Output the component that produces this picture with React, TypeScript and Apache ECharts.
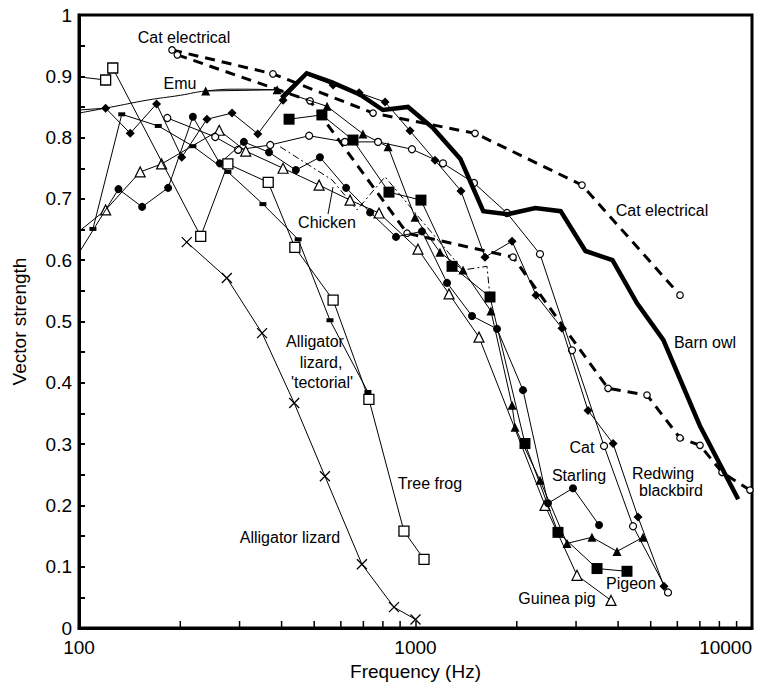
import React, { useEffect, useRef } from 'react';
import * as echarts from 'echarts';

const FONT = '"Liberation Sans", Arial, Helvetica, sans-serif';

const xTickLabels = ['100', '1000', '10000'];
const yTickLabels = ['0', '0.1', '0.2', '0.3', '0.4', '0.5', '0.6', '0.7', '0.8', '0.9', '1'];
const xMinorTicks = [200, 300, 400, 500, 600, 700, 800, 900, 2000, 3000, 4000, 5000, 6000, 7000, 8000, 9000];

type P = [number, number];

const barnOwl: P[] = [[400, .865], [475, .905], [565, .89], [685, .87], [800, .845], [950, .85], [1130, .815], [1360, .765], [1590, .68], [1880, .675], [2270, .685], [2700, .68], [3200, .615], [3850, .60], [4550, .53], [5450, .47], [7000, .33], [9100, .21]];

const catElectricalA: P[] = [[189, .943], [377, .904], [748, .84], [1503, .807], [3125, .7225], [6110, .543]];

const catElectricalB: P[] = [[196, .935], [486, .86], [944, .644], [1949, .605], [3734, .391], [4875, .38], [6110, .31], [7006, .298], [8145, .254], [9860, .225]];

const cat: P[] = [[183, .832], [254, .801], [297, .78], [370, .788], [483, .803], [617, .793], [774, .793], [976, .781], [1207, .758], [1492, .726], [1870, .677], [2344, .61], [2918, .453], [3633, .297], [4431, .166], [5628, .058]];

const redwing: P[] = [[100, .845], [120, .848], [142, .807], [170, .855], [202, .768], [240, .83], [285, .84], [340, .806], [404, .861], [476, .902], [569, .886], [680, .873], [812, .858], [963, .811], [1143, .763], [1365, .713], [1609, .605], [1936, .631], [2281, .543], [2725, .489], [3255, .355], [3864, .301], [4584, .181], [5476, .068]];
const redwingHidden = [476];

const starling: P[] = [[100, .612], [131, .716], [154, .687], [184, .718], [218, .834], [262, .758], [309, .793], [367, .776], [441, .747], [520, .768], [622, .718], [733, .678], [875, .638], [1045, .647], [1241, .563], [1472, .509], [1747, .488], [2087, .388], [2476, .2035], [2938, .228], [3511, .168]];

const pigeon: P[] = [[421, .83], [527, .837], [652, .796], [834, .711], [1038, .698], [1284, .59], [1665, .54], [2115, .301], [2651, .156], [3463, .097], [4251, .0925]];

const guineaPig: P[] = [[100, .647], [120, .682], [152, .744], [176, .757], [261, .812], [313, .778], [404, .75], [517, .7225], [639, .698], [779, .677], [1017, .618], [1258, .545], [1544, .4745], [2426, .2], [3019, .086], [3811, .045]];

const chicken: P[] = [[396, .785], [565, .731], [670, .682], [812, .736], [1384, .584], [1631, .59], [1665, .54]];

const emuCurve: P[] = [[100, .84], [128, .851], [159, .861], [200, .869], [238, .876], [301, .879], [388, .878]];
const emu: P[] = [[238, .876], [388, .878], [546, .851], [698, .806], [829, .785], [997, .67], [1182, .613], [1384, .584], [1676, .517], [1936, .3635], [1976, .3276], [2344, .241], [2820, .138], [3345, .148], [3971, .125], [4744, .148]];

const alligatorLizard: P[] = [[209, .6295], [275, .571], [350, .481], [436, .367], [538, .2476], [693, .104], [863, .034], [1000, .014]];

const tectorial: P[] = [[110, .651], [134, .838], [172, .819], [218, .786], [277, .744], [352, .6915], [448, .634], [557, .502], [722, .385]];

const treeFrog: P[] = [[100, .899], [120, .894], [126, .9135], [230, .639], [277, .757], [365, .727], [438, .621], [569, .535], [727, .373], [924, .158], [1060, .112]];

const labels: { text: string; x: number; y: number }[] = [
  { text: 'Cat electrical', x: 184, y: 37 },
  { text: 'Emu', x: 180, y: 83 },
  { text: 'Chicken', x: 327, y: 222 },
  { text: 'Cat electrical', x: 662, y: 210 },
  { text: 'Barn owl', x: 705, y: 342 },
  { text: 'Alligator', x: 315, y: 341 },
  { text: 'lizard,', x: 321, y: 362 },
  { text: "'tectorial'", x: 322, y: 382 },
  { text: 'Tree frog', x: 430, y: 483 },
  { text: 'Alligator lizard', x: 290, y: 537 },
  { text: 'Starling', x: 579, y: 475 },
  { text: 'Cat', x: 582, y: 447 },
  { text: 'Redwing', x: 663, y: 473 },
  { text: 'blackbird', x: 671, y: 490 },
  { text: 'Pigeon', x: 631, y: 583 },
  { text: 'Guinea pig', x: 557, y: 598 },
];

interface Sty {
  symbol?: string;
  size?: number | number[];
  fill?: string;
  border?: number;
  width?: number;
  type?: any;
  smooth?: boolean;
  z?: number;
  hidden?: number[];
}

function mk(name: string, data: P[], s: Sty) {
  const hidden = s.hidden || [];
  return {
    type: 'line',
    name,
    silent: true,
    smooth: s.smooth || false,
    data: data.map(([f, v]) =>
      f <= 100 || hidden.includes(f) ? { value: [f, v], symbol: 'none' } : { value: [f, v] }
    ),
    symbol: s.symbol || 'none',
    symbolSize: s.size || 8,
    showSymbol: !!s.symbol,
    lineStyle: { color: '#000', width: s.width || 1, type: s.type || 'solid', cap: 'butt', join: 'miter' },
    itemStyle: { color: s.fill || '#000', borderColor: '#000', borderWidth: s.border || 0 },
    z: s.z || 2,
  };
}

export default function App() {
  const ref = useRef<HTMLDivElement>(null);
  useEffect(() => {
    const chart = echarts.init(ref.current!, null, { renderer: 'svg' });
    const option: any = {
      animation: false,
      backgroundColor: '#fff',
      grid: {
        left: 79, right: 13, top: 15, bottom: 61,
        show: true, borderColor: '#000', borderWidth: 3,
        containLabel: false, outerBoundsMode: 'none',
      },
      xAxis: {
        type: 'log', logBase: 10, min: 100, max: 10000,
        axisLine: { show: true, lineStyle: { color: '#000', width: 3 } },
        axisTick: { show: true, inside: true, length: 7, lineStyle: { color: '#000', width: 1.5 } },
        axisLabel: {
          color: '#000', fontSize: 19, fontFamily: FONT, margin: 10,
          alignMaxLabel: 'right',
          formatter: (v: number) => xTickLabels[Math.round(Math.log10(v)) - 2] ?? '',
        },
        splitLine: { show: false },
        minorTick: { show: false },
        name: 'Frequency (Hz)', nameLocation: 'middle', nameGap: 31,
        nameTextStyle: { color: '#000', fontSize: 19, fontFamily: FONT },
      },
      yAxis: {
        type: 'value', min: 0, max: 1, interval: 0.05,
        axisLine: { show: true, lineStyle: { color: '#000', width: 3 } },
        axisTick: { show: true, inside: true, length: 6, lineStyle: { color: '#000', width: 2 } },
        axisLabel: {
          color: '#000', fontSize: 19, fontFamily: FONT, margin: 7,
          formatter: (v: number) => {
            const i = Math.round(v * 20);
            return i % 2 === 0 ? yTickLabels[i / 2] : '';
          },
        },
        splitLine: { show: false },
        name: 'Vector strength', nameLocation: 'middle', nameGap: 50,
        nameTextStyle: { color: '#000', fontSize: 19, fontFamily: FONT },
      },
      series: [
        {
          type: 'custom', name: 'minorTicks', silent: true, clip: false, z: 20,
          data: xMinorTicks.map((f) => [f, 0]),
          renderItem: (_p: any, api: any) => {
            const pt = api.coord([api.value(0), 0]);
            return {
              type: 'line',
              shape: { x1: pt[0], y1: pt[1], x2: pt[0], y2: pt[1] - 7 },
              style: { stroke: '#000', lineWidth: 1.5 },
            };
          },
        },
        mk('Cat electrical A', catElectricalA, { symbol: 'circle', size: 6.5, fill: '#fff', border: 1.2, width: 3, type: [10, 7], z: 3 }),
        mk('Cat electrical B', catElectricalB, { symbol: 'circle', size: 6.5, fill: '#fff', border: 1.2, width: 3, type: [10, 7], z: 3 }),
        mk('Emu fit', emuCurve, { smooth: true, z: 2 }),
        mk('Emu', emu, { symbol: 'triangle', size: 9, fill: '#000', z: 4 }),
        mk('Chicken', chicken, { width: 1, type: [7, 3, 2, 3], z: 2 }),
        mk('Guinea pig', guineaPig, { symbol: 'triangle', size: 10, fill: '#fff', border: 1.2, z: 4 }),
        mk('Cat', cat, { symbol: 'circle', size: 7, fill: '#fff', border: 1.2, z: 4 }),
        mk('Redwing blackbird', redwing, { symbol: 'diamond', size: 9, fill: '#000', z: 5, hidden: redwingHidden }),
        mk('Starling', starling, { symbol: 'circle', size: 8, fill: '#000', z: 5 }),
        mk('Pigeon', pigeon, { symbol: 'rect', size: 11, fill: '#000', z: 5 }),
        mk('Alligator lizard', alligatorLizard, { symbol: 'path://M0,0L10,10M10,0L0,10', size: 10, fill: '#000', border: 1.3, z: 5 }),
        mk("Alligator lizard 'tectorial'", tectorial, { symbol: 'rect', size: [7, 4], fill: '#000', z: 5 }),
        mk('Tree frog', treeFrog, { symbol: 'rect', size: 10, fill: '#fff', border: 1.3, z: 5 }),
        mk('Barn owl', barnOwl, { width: 4.5, z: 6 }),
      ],
      graphic: [
        ...labels.map((l) => ({
          type: 'text', x: l.x, y: l.y, silent: true, z: 100,
          style: {
            text: l.text, fill: '#000', font: `16px ${FONT}`,
            align: 'center', verticalAlign: 'middle',
            textAlign: 'center', textVerticalAlign: 'middle',
          },
        })),
        {
          type: 'line', silent: true, z: 100,
          shape: { x1: 328, y1: 214, x2: 333, y2: 187 },
          style: { stroke: '#000', lineWidth: 1 },
        },
      ],
    };
    chart.setOption(option);
    return () => chart.dispose();
  }, []);
  return (
    <div
      ref={ref}
      style={{ position: 'fixed', left: 0, top: 0, width: 765, height: 689, background: '#fff' }}
    />
  );
}
